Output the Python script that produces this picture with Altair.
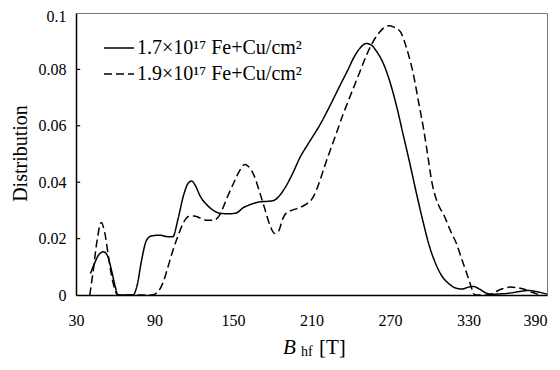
import altair as alt
import pandas as pd

# ---- data ----
b_solid = [41, 44, 47, 51, 54, 57, 60, 62, 67, 73.5, 77, 80, 84, 88, 94, 100, 104, 108, 112, 116, 118.5,
           121, 125, 130, 135, 140, 146, 152, 158, 164, 170, 176, 181, 186, 191, 196, 201, 208, 216.5,
           224, 232, 238, 242, 247, 252, 256, 260, 265, 270, 275, 280, 285, 290, 295, 300, 305, 310,
           315, 320, 325, 330, 334, 338, 343, 348, 355, 362, 370, 376, 382, 390]
d_solid = [0.0076, 0.011, 0.014, 0.0153, 0.014, 0.009, 0.003, 0.0, 0.0, 0.0, 0.004, 0.012, 0.0195, 0.021,
           0.0212, 0.0207, 0.0207, 0.027, 0.035, 0.0398, 0.0404, 0.039, 0.035, 0.032, 0.030, 0.029,
           0.0288, 0.029, 0.031, 0.0322, 0.033, 0.0332, 0.0335, 0.0355, 0.039, 0.0435, 0.0486, 0.054,
           0.0604, 0.067, 0.0745, 0.080, 0.0839, 0.0875, 0.0892, 0.0885, 0.0862, 0.082, 0.0755, 0.067,
           0.057, 0.047, 0.0365, 0.0265, 0.0175, 0.011, 0.0065, 0.004, 0.0025, 0.0021, 0.0028, 0.003,
           0.0022, 0.0008, 0.0003, 0.0004, 0.0007, 0.0013, 0.0016, 0.0012, 0.0003]

b_dashed = [40.5, 43, 46, 49.3, 52, 55, 58, 61, 62, 75, 88, 91, 94, 97, 100, 104, 108, 112, 116, 120,
            125, 130, 135, 140, 145, 150, 155, 159, 162, 166, 170, 174, 178, 182, 185, 188, 191, 196,
            201, 206, 211, 216, 221, 228, 234, 240, 247, 252, 257, 262, 266, 269, 273, 278, 283, 288,
            292, 296, 299, 302, 305, 308, 311, 316, 321, 325, 329, 332, 334, 336, 345, 350, 356, 361.7,
            367, 372, 377, 382, 386]
d_dashed = [0.0, 0.008, 0.019, 0.0257, 0.022, 0.013, 0.005, 0.0005, 0.0, 0.0, 0.0, 0.0005, 0.002, 0.005,
            0.0095, 0.0157, 0.021, 0.0255, 0.0278, 0.028, 0.0273, 0.0265, 0.0265, 0.0285, 0.034, 0.0392,
            0.044, 0.0463, 0.0455, 0.0425, 0.037, 0.031, 0.025, 0.0218, 0.0228, 0.027, 0.0292, 0.0302,
            0.031, 0.0322, 0.0345, 0.040, 0.047, 0.056, 0.0639, 0.071, 0.0792, 0.085, 0.0898, 0.0932,
            0.0950, 0.0955, 0.0950, 0.0933, 0.087, 0.078, 0.068, 0.058, 0.049, 0.040, 0.0345, 0.031,
            0.0285, 0.023, 0.018, 0.0125, 0.0072, 0.003, 0.0004, 0.0, 0.0, 0.001, 0.0022, 0.0028,
            0.0026, 0.0021, 0.0012, 0.0004, 0.0]

series_names = ["1.7×10¹⁷ Fe+Cu/cm²", "1.9×10¹⁷ Fe+Cu/cm²"]
x_ticks = [30, 90, 150, 210, 270, 330, 390]
y_ticks = [0, 0.02, 0.04, 0.06, 0.08, 0.1]
inner_ticks = [0.02, 0.04, 0.06, 0.08]

df = pd.concat([
    pd.DataFrame({"B": b_solid, "D": d_solid, "s": series_names[0]}),
    pd.DataFrame({"B": b_dashed, "D": d_dashed, "s": series_names[1]}),
])

FONT = "Liberation Serif"

xscale = alt.Scale(domain=[30, 390], nice=False, zero=False)
yscale = alt.Scale(domain=[0, 0.1], nice=False)

lines = alt.Chart(df).mark_line(color="black", strokeWidth=1.5, interpolate="monotone").encode(
    x=alt.X("B:Q", scale=xscale,
            axis=alt.Axis(values=x_ticks, title=None, ticks=False, grid=False,
                          labelFont=FONT, labelFontSize=16, labelColor="black",
                          labelPadding=17, labelFlush=False,
                          labelAlign={"condition": {"test": "datum.value === 390", "value": "right"},
                                      "value": "center"},
                          domainColor="black", domainWidth=1.5)),
    y=alt.Y("D:Q", scale=yscale,
            axis=alt.Axis(values=y_ticks, format="~g", ticks=False, grid=False,
                          labelFont=FONT, labelFontSize=16, labelColor="black", labelPadding=10,
                          labelOffset={"condition": {"test": "datum.value === 0.1", "value": 3},
                                       "value": 0},
                          domainColor="black", domainWidth=1.5,
                          title="Distribution", titleFont=FONT, titleFontSize=20,
                          titleFontWeight="normal", titleColor="black",
                          titleX=-56, titleY=140, titleAngle=270, titleAlign="center",
                          titleBaseline="middle")),
    strokeDash=alt.StrokeDash("s:N",
                              scale=alt.Scale(domain=series_names, range=[[1, 0], [8, 4]]),
                              legend=alt.Legend(title=None, orient="none", legendX=27, legendY=19,
                                                symbolType="stroke", symbolSize=900,
                                                symbolStrokeWidth=1.5, symbolStrokeColor="black",
                                                labelFont=FONT, labelFontSize=20, labelColor="black",
                                                labelOffset=2, rowPadding=-2, padding=0,
                                                labelLimit=300)),
)

ticks = alt.Chart(pd.DataFrame({"y": inner_ticks, "x0": 30, "x1": 33.2})).mark_rule(
    color="black", strokeWidth=1.2).encode(
    x=alt.X("x0:Q", scale=xscale), x2="x1:Q", y=alt.Y("y:Q", scale=yscale))

t_b = alt.Chart(pd.DataFrame({"t": ["B"]})).mark_text(
    font=FONT, fontSize=21, fontStyle="italic", align="left", baseline="alphabetic", color="black"
).encode(x=alt.value(207), y=alt.value(341), text="t:N")
t_hf = alt.Chart(pd.DataFrame({"t": ["hf"]})).mark_text(
    font=FONT, fontSize=14, align="left", baseline="alphabetic", color="black"
).encode(x=alt.value(225), y=alt.value(343), text="t:N")
t_t = alt.Chart(pd.DataFrame({"t": ["[T]"]})).mark_text(
    font=FONT, fontSize=21, align="left", baseline="alphabetic", color="black"
).encode(x=alt.value(243), y=alt.value(341), text="t:N")

chart = alt.layer(lines, ticks, t_b, t_hf, t_t).properties(
    width=471, height=282,
    autosize=alt.AutoSizeParams(type="none"),
    padding={"left": 68, "top": 5, "right": 5, "bottom": 67},
).configure_view(stroke="#777", strokeWidth=1)

chart.save("out.html", embed_options={"renderer": "svg", "actions": False})
